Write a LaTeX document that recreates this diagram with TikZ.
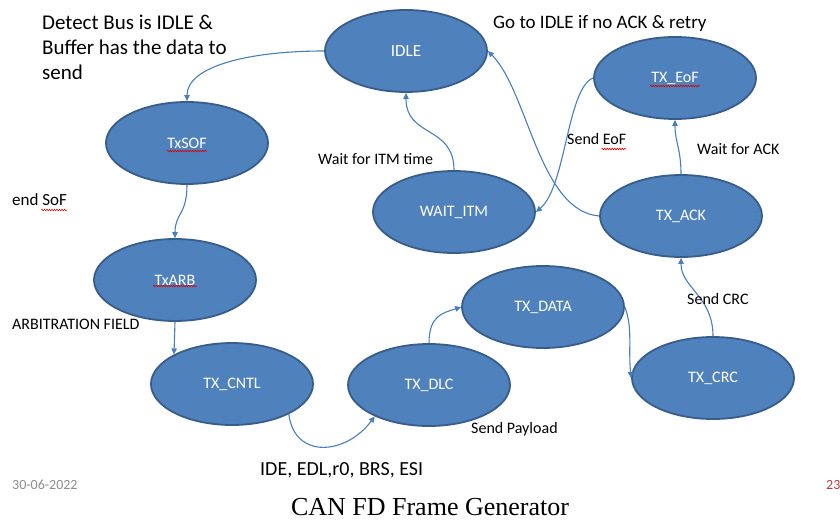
\documentclass[tikz,border=0pt]{standalone}
\usepackage{fontspec}
\setmainfont{Carlito}
\newfontfamily\titlefont{Liberation Serif}
\usetikzlibrary{arrows.meta,shapes.geometric,decorations.pathmorphing,calc}
\definecolor{stfill}{RGB}{79,129,189}
\definecolor{stline}{RGB}{56,93,138}
\definecolor{arr}{RGB}{74,126,187}
\definecolor{datecol}{RGB}{140,140,140}
\definecolor{pagecol}{RGB}{190,60,60}
\tikzset{
  st/.style={ellipse, draw=stline, line width=1.8pt, fill=stfill, text=white,
    minimum width=162pt, minimum height=82pt, inner sep=0pt,
    font=\fontsize{16}{18}\selectfont},
  conn/.style={draw=arr, line width=1.1pt, -{Triangle[length=6pt,width=5.5pt]}},
  lbl/.style={anchor=base west, inner sep=0pt, font=\fontsize{16}{18}\selectfont},
  wavy/.style={draw=red!85!black, line width=0.6pt, decorate,
    decoration={snake, segment length=2.5pt, amplitude=0.7pt}}
}
\begin{document}
\begin{tikzpicture}[x=1pt,y=-1pt]
\useasboundingbox (0,0) rectangle (840,521);
% states
\node[st, font=\fontsize{17}{19}\selectfont] (idle) at (406,51) {IDLE};
\node[st] (txsof) at (187,143) {TxSOF};
\node[st] (txarb) at (175,280) {TxARB};
\node[st] (txcntl) at (232,384) {TX\_CNTL};
\node[st] (txdlc) at (429,385) {TX\_DLC};
\node[st] (txdata) at (543,307) {TX\_DATA};
\node[st] (txcrc) at (713,378) {TX\_CRC};
\node[st] (txack) at (681,216) {TX\_ACK};
\node[st] (txeof) at (675,78) {TX\_EoF};
\node[st] (waititm) at (454,212) {WAIT\_ITM};
% spelling marks
\draw[wavy] ($(txsof)+(-20,8)$) -- ($(txsof)+(20,8)$);
\draw[wavy] ($(txarb)+(-22,6)$) -- ($(txarb)+(22,6)$);
\draw[wavy] ($(txeof)+(-25,8)$) -- ($(txeof)+(25,8)$);
% connectors
\draw[conn] (idle.west) .. controls +(-75,0) and +(0,-35) .. (txsof.north);
\draw[conn] (txsof.south) .. controls +(0,30) and +(0,-25) .. (txarb.north);
\draw[conn] (txarb.south) -- (txcntl.153);
\draw[conn] (txcntl.-28) .. controls +(6,46) and +(-28,38) .. (txdlc.210);
\draw[conn] (txdlc.north) .. controls +(0,-28) and +(-18,6) .. (txdata.west);
\draw[conn] (txdata.east) .. controls +(8,22) and +(-3,-32) .. (txcrc.west);
\draw[conn] (txcrc.north) .. controls +(0,-40) and +(0,30) .. (txack.south);
\draw[conn] (txack.north) .. controls +(0,-25) and +(0,22) .. (txeof.south);
\draw[conn] (txack.west) .. controls +(-60,-5) and +(40,40) .. (idle.east);
\draw[conn] (txeof.west) .. controls +(-26,10) and +(30,-25) .. (waititm.east);
\draw[conn] (waititm.north) .. controls +(0,-45) and +(0,45) .. (idle.south);
% labels
\node[anchor=north west, inner sep=0pt, align=left, font=\fontsize{21}{25}\selectfont] (head) at (42,15)
  {Detect Bus is IDLE \&\\Buffer has the data to\\send};
\node[lbl, font=\fontsize{19}{21}\selectfont] (lgo) at (493,29) {Go to IDLE if no ACK \& retry};
\node[lbl] (leof) at (567,145) {Send EoF};
\draw[wavy] ($(leof.base east)+(-25,4)$) -- ($(leof.base east)+(0,4)$);
\node[lbl] (lack) at (697,155) {Wait for ACK};
\node[lbl] (litm) at (318,165) {Wait for ITM time};
\node[lbl, font=\fontsize{17}{19}\selectfont] (lsof) at (12,206) {end SoF};
\draw[wavy] ($(lsof.base east)+(-26,4)$) -- ($(lsof.base east)+(0,4)$);
\node[lbl] (larb) at (12,329) {ARBITRATION FIELD};
\node[lbl] (lcrc) at (687,304) {Send CRC};
\node[lbl] (lpay) at (471,433) {Send Payload};
\node[lbl, font=\fontsize{20}{22}\selectfont] (lide) at (260,475) {IDE, EDL,r0, BRS, ESI};
\begin{scope}
\clip (0,479) rectangle (840,500);
\node[lbl, text=datecol, font=\fontsize{14}{16}\selectfont] (ldate) at (12,489) {30-06-2022};
\node[lbl, text=pagecol, font=\fontsize{14}{16}\selectfont] (lpage) at (826,489) {23};
\end{scope}
\node[anchor=base, inner sep=0pt, font=\titlefont\fontsize{26}{28}\selectfont] (title) at (430,515) {CAN FD Frame Generator};
\end{tikzpicture}
\end{document}
